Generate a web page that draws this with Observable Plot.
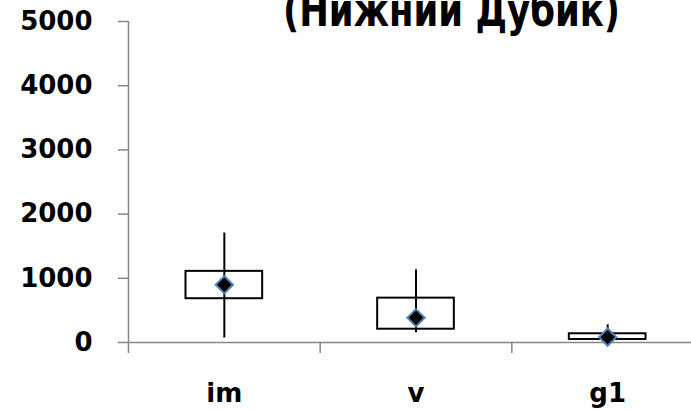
<!DOCTYPE html>
<html>
<head>
<meta charset="utf-8">
<script src="https://cdn.jsdelivr.net/npm/d3@7"></script>
<script src="https://cdn.jsdelivr.net/npm/@observablehq/plot@0.6"></script>
<style>
  html, body { margin: 0; padding: 0; background: #fff; }
  #chart svg { display: block; }
</style>
</head>
<body>
<div id="chart"></div>
<script>
const title = "(Нижний Дубик)";
const categories = ["im", "v", "g1"];
const whiskerLow = [70, 151, 20];
const boxLow = [682, 207, 47];
const boxHigh = [1108, 691, 136];
const whiskerHigh = [1705, 1134, 276];
const means = [900, 385, 83];
const yTicks = [0, 1000, 2000, 3000, 4000, 5000];
const bandEdges = [0, 1, 2, 3];

const rows = categories.map((c, i) => ({
  cat: c, i,
  wLo: whiskerLow[i], bLo: boxLow[i], bHi: boxHigh[i], wHi: whiskerHigh[i], mean: means[i]
}));

const gray = "#868686";

const chart = Plot.plot({
  width: 691,
  height: 410,
  marginLeft: 128,
  marginRight: 0,
  marginTop: 21,
  marginBottom: 68,
  style: {fontFamily: "'DejaVu Sans', sans-serif", fontWeight: "bold", fontSize: "26px", color: "#000", background: "#fff"},
  x: {type: "linear", domain: [0, 3], range: [128, 703]},
  y: {domain: [0, 5000], range: [342, 21]},
  marks: [
    Plot.axisY({ticks: yTicks, tickSize: 10, tickPadding: 26, tickFormat: d3.format("d"), stroke: gray, strokeWidth: 1.5, label: null, fontSize: 26, fontWeight: "bold"}),
    Plot.axisX({ticks: bandEdges, tickSize: 11, tickFormat: () => "", stroke: gray, strokeWidth: 1.5, label: null}),
    Plot.ruleY([0], {stroke: gray, strokeWidth: 1.5}),
    Plot.ruleX([0], {stroke: gray, strokeWidth: 1.5}),
    Plot.rect(rows, {x1: d => d.i + 0.3, x2: d => d.i + 0.7, y1: "bLo", y2: "bHi", fill: "white", stroke: "black", strokeWidth: 2}),
    Plot.ruleX(rows, {x: d => d.i + 0.5, y1: "wLo", y2: "wHi", stroke: "black", strokeWidth: 2}),
    Plot.dot(rows, {x: d => d.i + 0.5, y: "mean", symbol: "diamond2", r: 7.8, fill: "black", stroke: "#4f81bd", strokeWidth: 2}),
    Plot.text(rows, {x: d => d.i + 0.5, text: "cat", frameAnchor: "bottom", lineAnchor: "bottom", dy: 59, fontSize: 26, fontWeight: "bold", fill: "black"}),
    Plot.text([title], {frameAnchor: "top", lineAnchor: "bottom", dy: 4, dx: 41.5, fontSize: 46, fontWeight: "bold", fill: "black"})
  ]
});
d3.select(chart).selectAll("text")
  .filter(function() { return this.textContent === title; })
  .attr("textLength", 337)
  .attr("lengthAdjust", "spacingAndGlyphs");
document.getElementById("chart").appendChild(chart);
</script>
</body>
</html>
